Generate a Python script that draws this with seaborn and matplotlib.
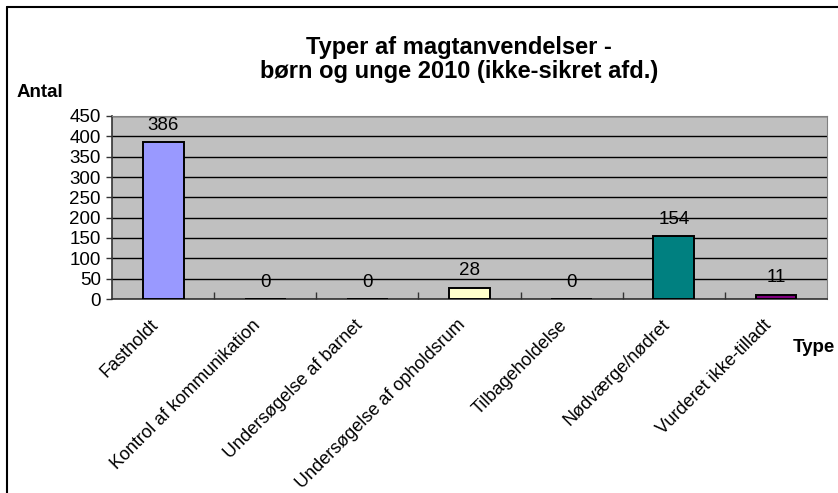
import matplotlib
matplotlib.use("Agg")
import matplotlib.pyplot as plt
import matplotlib.transforms as mtransforms
from matplotlib.lines import Line2D
import pandas as pd
import seaborn as sns

# -----------------------------
# Data
# -----------------------------
categories = ["Fastholdt", "Kontrol af kommunikation", "Undersøgelse af barnet",
              "Undersøgelse af opholdsrum", "Tilbageholdelse", "Nødværge/nødret",
              "Vurderet ikke-tilladt"]
counts = [386, 0, 0, 28, 0, 154, 11]
bar_colors = ["#9999FF", "#993366", "#FFFFCC", "#FFFFCC", "#CCFFFF", "#008080", "#800080"]
y_ticks = list(range(0, 451, 50))

title_lines = ["Typer af magtanvendelser -", "børn og unge 2010 (ikke-sikret afd.)"]

# -----------------------------
# Style
# -----------------------------
sns.set_style("white")
plt.rcParams["font.family"] = ["Liberation Sans", "DejaVu Sans"]
plt.rcParams["text.color"] = "black"
plt.rcParams["xtick.color"] = "black"
plt.rcParams["ytick.color"] = "black"

W, H = 838, 493
fig = plt.figure(figsize=(W / 100, H / 100), dpi=100)
ax = fig.add_axes([112 / W, 1 - 299 / H, (827 - 112) / W, (299 - 116) / H])

df = pd.DataFrame({"Type": categories, "Antal": counts})
sns.barplot(data=df, x="Type", y="Antal", hue="Type", palette=bar_colors,
            saturation=1, width=0.4, edgecolor="black", linewidth=1.4,
            legend=False, ax=ax, zorder=3)

for c in ax.containers:
    ax.bar_label(c, padding=6, fontsize=13.5, color="black")

# axes look
ax.set_facecolor("#C0C0C0")
ax.set_ylim(0, 450)
ax.set_xlim(-0.5, len(categories) - 0.5)
ax.set_yticks(y_ticks)
ax.yaxis.grid(True, color="black", lw=1)
ax.set_axisbelow(True)
ax.set_xlabel("")
ax.set_ylabel("")
for side in ["top", "right"]:
    ax.spines[side].set_color("#808080")
for side in ["left", "bottom"]:
    ax.spines[side].set_color("#333333")
    ax.spines[side].set_linewidth(1.2)

ax.tick_params(axis="y", length=4, width=1, color="#333333", pad=4, labelsize=13.5, left=True)
ax.tick_params(axis="x", which="major", length=0, pad=17, labelsize=13)
ax.set_xticks([i + 0.5 for i in range(len(categories) - 1)], minor=True)
ax.tick_params(axis="x", which="minor", direction="in", length=5, width=1,
               color="#333333", bottom=True)

shift = mtransforms.ScaledTranslation(-5 / 72, 0, fig.dpi_scale_trans)
for lab in ax.get_xticklabels():
    lab.set_rotation(45)
    lab.set_ha("right")
    lab.set_va("center")
    lab.set_rotation_mode("anchor")
    lab.set_transform(lab.get_transform() + shift)

# titles
fig.text(459 / W, 1 - 54 / H, title_lines[0], ha="center", va="baseline",
         fontsize=17, fontweight="bold")
fig.text(459 / W, 1 - 78 / H, title_lines[1], ha="center", va="baseline",
         fontsize=17, fontweight="bold")
fig.text(17 / W, 1 - 97 / H, "Antal", ha="left", va="baseline",
         fontsize=13.5, fontweight="bold")
fig.text(793 / W, 1 - 352 / H, "Type", ha="left", va="baseline",
         fontsize=13.5, fontweight="bold")

# outer chart border (left and top visible)
fig.add_artist(Line2D([7 / W, 7 / W], [0, 1 - 7 / H], transform=fig.transFigure,
                      color="black", lw=1.5))
fig.add_artist(Line2D([7 / W, 1], [1 - 7 / H, 1 - 7 / H], transform=fig.transFigure,
                      color="black", lw=1.5))

fig.savefig("out.png", dpi=100)
